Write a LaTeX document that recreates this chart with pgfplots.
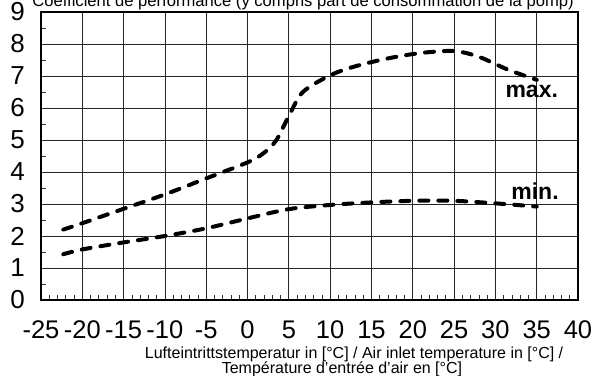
\documentclass[border=0pt]{standalone}
\usepackage{pgfplots}
\pgfplotsset{compat=1.18}
\usepackage{fontspec}
\setmainfont{Liberation Sans}
\begin{document}
\begin{tikzpicture}
\begin{axis}[
  at={(0,0)}, anchor=south west,
  scale only axis,
  width=537bp, height=288bp,
  xmin=-25, xmax=40, ymin=0, ymax=9,
  xtick={-25,-20,...,40},
  xticklabels={-25,-20,-15,-10,-5,0,5,10,15,20,25,30,35,40},
  ytick={0,1,...,9},
  yticklabels={0,1,2,3,4,5,6,7,8,9},
  minor x tick num=4,
  minor y tick num=1,
  xtick pos=lower, ytick pos=left,
  tick align=inside,
  major tick length=0pt,
  minor tick length=5bp,
  minor tick style={black!80, line width=0.7bp},
  grid=major,
  major grid style={black!85, line width=0.8bp},
  axis line style={black, line width=1.2bp},
  xticklabel style={font=\fontsize{25.5bp}{28bp}\selectfont, inner sep=0pt, anchor=base, yshift=-38bp},
  yticklabel style={font=\fontsize{26bp}{28bp}\selectfont, inner sep=0pt, anchor=east, xshift=-16bp},
  clip=false,
]
\addplot[black, line width=4bp, line cap=round, dash pattern=on 9bp off 10bp, smooth] coordinates {
(-22.3,2.2) (-20,2.4) (-15,2.85) (-10,3.3) (-5,3.8) (0,4.3) (2,4.6) (3.5,5.0) (5,5.75) (6.7,6.5) (10,7.02) (13,7.3) (17,7.55) (21,7.72) (25,7.78) (28,7.6) (31.5,7.2) (35,6.88)
};
\addplot[black, line width=4bp, line cap=round, dash pattern=on 9bp off 10bp, smooth] coordinates {
(-22.3,1.43) (-20,1.58) (-15,1.8) (-10,2.0) (-5,2.24) (0,2.55) (5,2.84) (10,2.97) (15,3.05) (20,3.1) (25,3.1) (30,3.02) (35,2.92)
};
\node[font=\fontsize{23bp}{25bp}\selectfont\bfseries, inner sep=0pt] at (axis cs:34.4,6.53) {max.};
\node[font=\fontsize{23bp}{25bp}\selectfont\bfseries, inner sep=0pt] at (axis cs:34.8,3.41) {min.};
\node[font=\fontsize{16.6bp}{18bp}\selectfont, inner sep=0pt, anchor=base] at ([yshift=5.5bp]rel axis cs:0.488,1) {Coefficient de performance (y compris part de consommation de la pomp)};
\node[font=\fontsize{16bp}{17bp}\selectfont, inner sep=0pt, anchor=base] at ([yshift=-58bp]rel axis cs:0.583,0) {Lufteintrittstemperatur in [°C] / Air inlet temperature in [°C] /};
\node[font=\fontsize{16bp}{17bp}\selectfont, inner sep=0pt, anchor=base] at ([yshift=-73bp]rel axis cs:0.5605,0) {Température d'entrée d'air en [°C]};
\end{axis}
\pgfresetboundingbox
\useasboundingbox (-41bp,-76bp) rectangle (551bp,300bp);
\end{tikzpicture}
\end{document}
